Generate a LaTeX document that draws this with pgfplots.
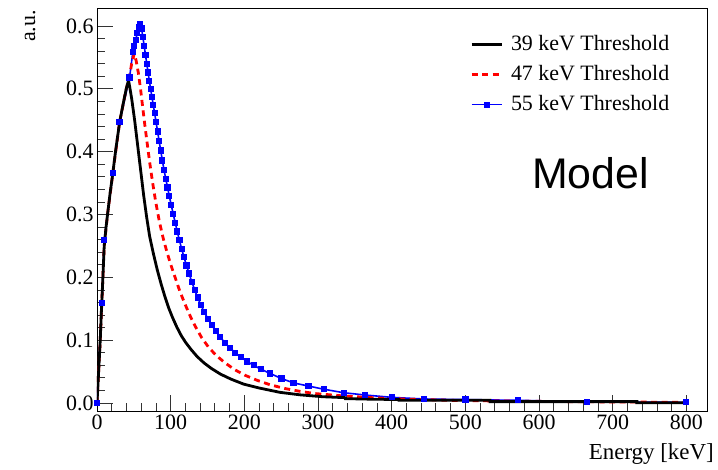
\documentclass[border=0pt]{standalone}
\usepackage{fontspec}
\setmainfont{Liberation Serif}
\newfontfamily\helv{Liberation Sans}
\usepackage{pgfplots}
\pgfplotsset{compat=1.18}

\pgfplotstableread{
x y
0 0
2 0.045
4.4 0.10
6.1 0.15
8.0 0.20
9.8 0.25
12.3 0.28
14.3 0.30
17.9 0.335
21.5 0.366
25.1 0.40
30.7 0.447
35.3 0.475
39.7 0.50
42.8 0.514
47.0 0.485
51.1 0.450
55.2 0.410
59.3 0.370
63.4 0.330
67.5 0.295
71.5 0.265
76.7 0.237
81.8 0.212
86.9 0.190
92.0 0.170
97.1 0.152
102.2 0.137
108.3 0.121
114.5 0.107
120.6 0.096
127.8 0.085
135.9 0.074
145.1 0.064
155.3 0.055
167.6 0.046
181.9 0.038
199.3 0.030
219.7 0.024
248.3 0.017
275.9 0.013
306.6 0.0100
337.3 0.0085
337.3 0.0070
367.9 0.0062
409.8 0.0055
409.8 0.0045
533.5 0.0045
533.5 0.0022
732.8 0.0022
732.8 0.0003
800 0.0003
}\tabA

\pgfplotstableread{
x y
0 0
4.4 0.10
8.0 0.20
9.8 0.25
14.3 0.30
21.5 0.366
30.7 0.447
39.7 0.50
44.2 0.52
47.0 0.54
50.6 0.556
53.1 0.545
56.2 0.525
59.3 0.498
62.3 0.468
65.4 0.438
68.5 0.410
71.5 0.383
75.6 0.350
79.7 0.320
84.8 0.288
89.9 0.262
95.0 0.240
100.2 0.220
106.3 0.199
112.4 0.178
119.6 0.157
126.7 0.138
133.9 0.121
142.1 0.104
151.3 0.089
161.5 0.076
173.7 0.064
187.0 0.053
201.3 0.044
217.7 0.036
235.1 0.029
255.5 0.023
275.9 0.0185
296.4 0.015
337.3 0.011
388.4 0.0075
439.5 0.0055
490.6 0.004
562.1 0.003
664.3 0.002
800 0.001
}\tabB

\pgfplotstableread{
x y
0 0
6.6 0.159
9.8 0.26
21.6 0.366
30.6 0.447
44.2 0.518
48.7 0.559
50.6 0.568
52.6 0.578
54.7 0.589
56.7 0.598
58.7 0.603
60.5 0.596
62.3 0.582
64.1 0.568
65.8 0.554
67.6 0.540
69.3 0.526
71.0 0.513
72.8 0.500
74.6 0.487
76.4 0.474
78.3 0.461
80.2 0.447
82.3 0.432
84.3 0.417
86.5 0.402
88.7 0.386
91.0 0.371
93.3 0.357
95.8 0.343
98.2 0.329
100.8 0.315
103.4 0.301
106.2 0.287
108.9 0.273
111.9 0.259
115.0 0.245
118.1 0.232
121.5 0.219
125.0 0.206
128.7 0.193
132.6 0.180
136.6 0.168
141.0 0.156
145.6 0.145
150.5 0.134
155.8 0.124
161.3 0.114
167.2 0.105
173.5 0.096
180.3 0.088
187.5 0.080
195.3 0.073
203.7 0.066
212.6 0.060
222.2 0.054
235.1 0.047
250.4 0.039
266.7 0.032
287.2 0.027
307.6 0.022
334.8 0.0164
364.2 0.0127
400.5 0.009
443.4 0.0064
500.1 0.0055
571.6 0.0043
665.3 0.002
800 0.001
}\tabC

\begin{document}
\begin{tikzpicture}
\begin{axis}[
  at={(0,0)}, anchor=south west,
  scale only axis, width=610bp, height=403bp,
  xmin=0, xmax=828, ymin=-0.0127, ymax=0.6287,
  xtick={0,100,...,800},
  ytick={0,0.1,0.2,0.3,0.4,0.5,0.6},
  minor x tick num=4, minor y tick num=4,
  tick align=inside, xtick pos=lower, ytick pos=left,
  major tick length=16bp, minor tick length=8bp,
  axis line style={line width=0.8bp},
  tick style={line width=0.8bp, black!80},
  /pgf/number format/assume math mode=true,
  ticklabel style={font=\fontsize{22}{24}\selectfont},
  yticklabel style={/pgf/number format/.cd, fixed, fixed zerofill, precision=1},
  xlabel={Energy [keV]},
  xlabel style={at={(rel axis cs:1,0)}, anchor=north east, inner sep=0pt, yshift=-32bp, xshift=7bp, font=\fontsize{23}{26}\selectfont},
  ylabel={a.u.},
  ylabel style={at={(rel axis cs:-0.1016,0.995)}, anchor=base east, inner sep=0pt, font=\fontsize{22}{24}\selectfont},
  legend style={draw=none, fill=none, at={(0.6115,0.9355)}, anchor=north west, inner sep=0pt,
    font=\fontsize{22}{24}\selectfont, row sep=9bp, column sep=8bp,
    nodes={inner sep=0pt, text height=16bp, text depth=5bp}},
  legend cell align=left,
  reverse legend,
  legend image code/.code={\draw[mark repeat=2, mark phase=2, #1] plot coordinates {(0bp,0bp) (15bp,0bp) (30bp,0bp)};},
]
\addplot[blue, line width=1.6bp, mark=square*, mark size=2.3bp, mark options={solid}] table {\tabC};
\addlegendentry{55 keV Threshold}
\addplot[red, line width=2.8bp, dash pattern=on 6bp off 4.5bp] table {\tabB};
\addlegendentry{47 keV Threshold}
\addplot[black, line width=2.8bp] table {\tabA};
\addlegendentry{39 keV Threshold}
\node[anchor=base west, font=\helv\fontsize{43}{46}\selectfont, inner sep=0pt] at (rel axis cs:0.7131,0.553) {Model};
\end{axis}
\pgfresetboundingbox
\useasboundingbox (-97bp,-59bp) rectangle (621bp,411bp);
\end{tikzpicture}
\end{document}
